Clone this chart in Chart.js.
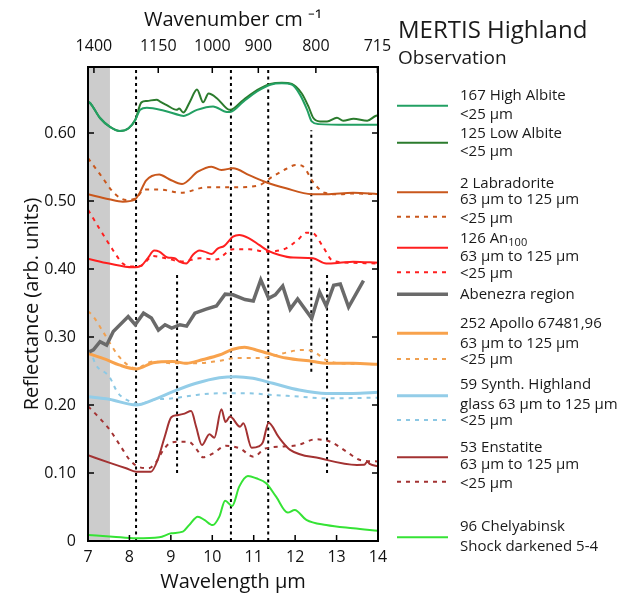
<!DOCTYPE html>
<html>
<head>
<meta charset="utf-8">
<script src="https://cdn.jsdelivr.net/npm/chart.js@4.4.1/dist/chart.umd.min.js"></script>
<style>
  html, body { margin: 0; padding: 0; background: #fff; }
  #wrap { position: relative; width: 619px; height: 598px; }
  #chart { position: absolute; left: 0; top: 0; }
  #legend { position: absolute; left: 0; top: 0; pointer-events: none; }
  #legend text { font-family: 'Open Sans', sans-serif; fill: #1a1a1a; }
</style>
</head>
<body>
<div id="wrap">
  <canvas id="chart" width="619" height="598"></canvas>
  <svg id="legend" width="619" height="598"></svg>
</div>
<script>
// [wavelength µm, reflectance]
const highAlbite = [[7.0,0.646],[7.05,0.644],[7.29,0.622],[7.53,0.609],[7.77,0.603],[7.98,0.607],[8.14,0.619],[8.26,0.634],[8.42,0.637],[8.82,0.633],[9.22,0.626],[9.30,0.625],[9.63,0.634],[10.02,0.639],[10.35,0.631],[10.43,0.631],[10.75,0.646],[11.08,0.661],[11.40,0.671],[11.68,0.673],[11.92,0.671],[12.12,0.656],[12.29,0.634],[12.40,0.617],[12.57,0.613],[13.28,0.612],[14.0,0.612]];
const lowAlbite = [[7.0,0.646],[7.05,0.644],[7.29,0.622],[7.53,0.609],[7.77,0.603],[7.98,0.607],[8.14,0.619],[8.29,0.645],[8.42,0.647],[8.66,0.649],[8.74,0.646],[8.90,0.641],[9.14,0.634],[9.20,0.636],[9.30,0.630],[9.46,0.646],[9.63,0.664],[9.78,0.645],[9.91,0.658],[10.11,0.651],[10.35,0.636],[10.43,0.634],[10.75,0.6485],[11.08,0.663],[11.40,0.672],[11.68,0.674],[11.92,0.672],[12.16,0.658],[12.32,0.639],[12.44,0.622],[12.60,0.617],[12.77,0.617],[13.01,0.6225],[13.16,0.618],[13.41,0.621],[13.74,0.618],[13.94,0.625],[14.0,0.626]];
const labradorite = [[7.0,0.510],[7.51,0.5025],[7.84,0.499],[8.12,0.5015],[8.24,0.511],[8.40,0.530],[8.72,0.539],[8.96,0.532],[9.27,0.525],[9.65,0.543],[9.98,0.5505],[10.22,0.5456],[10.50,0.548],[10.89,0.538],[11.30,0.5275],[11.78,0.5186],[12.40,0.510],[12.75,0.5097],[13.40,0.512],[14.0,0.510]];
const labradoriteFine = [[7.0,0.563],[7.27,0.541],[7.64,0.511],[7.92,0.5015],[8.16,0.504],[8.36,0.517],[8.72,0.517],[9.25,0.512],[9.85,0.520],[10.50,0.520],[11.10,0.5226],[11.46,0.536],[11.78,0.547],[12.02,0.553],[12.19,0.551],[12.43,0.528],[12.71,0.512],[13.07,0.5097],[13.40,0.511],[14.0,0.510]];
const an100 = [[7.0,0.415],[7.51,0.408],[8.08,0.4025],[8.29,0.405],[8.44,0.4157],[8.60,0.427],[8.72,0.4255],[8.92,0.417],[9.09,0.4157],[9.20,0.411],[9.37,0.408],[9.53,0.4206],[9.69,0.427],[9.81,0.4255],[9.98,0.422],[10.13,0.430],[10.29,0.434],[10.50,0.4475],[10.65,0.450],[10.89,0.445],[11.14,0.435],[11.34,0.427],[11.62,0.4206],[11.95,0.4167],[12.43,0.4157],[12.75,0.408],[13.07,0.409],[13.40,0.4108],[14.0,0.409]];
const an100Fine = [[7.0,0.487],[7.08,0.479],[7.27,0.460],[7.60,0.428],[7.84,0.408],[8.08,0.4035],[8.29,0.405],[8.57,0.419],[8.88,0.4157],[9.29,0.411],[9.69,0.4157],[10.09,0.414],[10.50,0.429],[10.89,0.429],[11.30,0.4255],[11.78,0.4304],[12.06,0.4426],[12.27,0.4534],[12.43,0.4525],[12.67,0.433],[12.91,0.412],[13.40,0.409],[14.0,0.408]];
const abenezra = [[7.03,0.278],[7.13,0.281],[7.29,0.293],[7.45,0.288],[7.61,0.308],[7.97,0.330],[8.14,0.318],[8.34,0.335],[8.53,0.328],[8.70,0.310],[8.86,0.318],[9.02,0.313],[9.22,0.318],[9.38,0.316],[9.58,0.335],[9.85,0.341],[10.10,0.3456],[10.31,0.363],[10.50,0.362],[10.79,0.355],[10.99,0.353],[11.17,0.384],[11.36,0.357],[11.52,0.362],[11.70,0.375],[11.88,0.341],[12.06,0.356],[12.40,0.3275],[12.59,0.366],[12.75,0.3456],[12.93,0.376],[13.09,0.378],[13.29,0.344],[13.65,0.383]];
const apollo = [[7.0,0.276],[7.43,0.267],[7.75,0.259],[8.16,0.253],[8.57,0.262],[9.05,0.264],[9.37,0.2613],[9.78,0.267],[10.17,0.2735],[10.50,0.282],[10.78,0.285],[11.06,0.2809],[11.34,0.276],[11.78,0.269],[12.43,0.264],[12.75,0.2613],[13.40,0.2613],[14.0,0.2598]];
const apolloFine = [[7.0,0.338],[7.13,0.330],[7.34,0.310],[7.56,0.288],[7.75,0.271],[8.00,0.257],[8.16,0.254],[8.57,0.264],[9.05,0.2613],[9.61,0.2613],[10.17,0.265],[10.57,0.269],[11.14,0.269],[11.46,0.272],[11.78,0.277],[12.15,0.281],[12.43,0.279],[12.75,0.266],[13.07,0.2613],[14.0,0.260]];
const synthGlass = [[7.0,0.212],[7.51,0.2083],[8.16,0.200],[8.57,0.2074],[9.05,0.2196],[9.61,0.2319],[10.17,0.240],[10.57,0.2417],[10.98,0.2392],[11.46,0.2319],[12.10,0.222],[12.75,0.217],[13.40,0.217],[14.0,0.2186]];
const synthGlassFine = [[7.0,0.280],[7.09,0.2735],[7.19,0.259],[7.51,0.242],[7.72,0.218],[8.01,0.2054],[8.24,0.2015],[8.57,0.2074],[9.05,0.2098],[9.61,0.2147],[10.17,0.2172],[10.82,0.2172],[11.46,0.2147],[12.10,0.2123],[12.75,0.2098],[14.0,0.2108]];
const enstatite = [[7.0,0.126],[7.51,0.1152],[7.92,0.1069],[8.16,0.102],[8.52,0.102],[8.68,0.119],[8.85,0.153],[9.01,0.182],[9.16,0.185],[9.33,0.1873],[9.49,0.191],[9.61,0.168],[9.75,0.141],[9.93,0.157],[10.05,0.152],[10.22,0.1936],[10.32,0.175],[10.43,0.183],[10.67,0.168],[10.75,0.173],[10.95,0.137],[11.12,0.139],[11.22,0.145],[11.36,0.174],[11.60,0.153],[11.88,0.134],[12.60,0.1216],[13.49,0.1118],[13.67,0.112],[13.74,0.1166],[13.81,0.113],[14.0,0.110]];
const enstatiteFine = [[7.0,0.198],[7.05,0.195],[7.29,0.180],[7.53,0.163],[7.77,0.141],[8.01,0.119],[8.22,0.109],[8.46,0.107],[8.62,0.114],[8.82,0.134],[8.98,0.144],[9.22,0.146],[9.43,0.146],[9.63,0.134],[9.78,0.123],[10.02,0.129],[10.33,0.140],[10.67,0.136],[10.99,0.124],[11.28,0.136],[11.72,0.139],[12.06,0.141],[12.49,0.1495],[12.85,0.146],[13.25,0.131],[13.57,0.119],[14.0,0.117]];
const chelyabinsk = [[7.0,0.009],[7.60,0.0064],[8.16,0.004],[8.72,0.0054],[9.01,0.0113],[9.29,0.0137],[9.44,0.0234],[9.65,0.0358],[9.81,0.031],[10.01,0.0234],[10.17,0.0358],[10.31,0.0593],[10.48,0.0515],[10.65,0.0799],[10.86,0.0956],[11.06,0.0922],[11.30,0.085],[11.54,0.0652],[11.82,0.0418],[11.99,0.0456],[12.27,0.031],[12.75,0.0234],[13.40,0.0186],[14.0,0.015]];

// dotted band markers (µm) and their vertical extent (reflectance)
const markerX = [8.16, 9.15, 10.45, 11.35, 12.39, 12.77];
const markerFrom = [0, 0.1, 0, 0, 0.249, 0.1];
const markerTo = [0.697, 0.394, 0.697, 0.697, 0.604, 0.396];
const shadeBand = [7, 7.53];

const wavenumberTicks = [1400, 1150, 1000, 900, 800, 715];
const yTicks = [0, 0.1, 0.2, 0.3, 0.4, 0.5, 0.6];

const FONT = "'Open Sans', sans-serif";
Chart.defaults.font.family = FONT;
Chart.defaults.color = '#111';

const DOT = [4, 5];
function series(data, color, width, dash, smooth = true) {
    return {
        data: data.map(([x, y]) => ({ x, y })),
        borderColor: color,
        borderWidth: width,
        borderDash: dash || [],
        pointRadius: 0,
        fill: false,
        tension: smooth ? 0.4 : 0,
        cubicInterpolationMode: smooth ? 'monotone' : 'default'
    };
}

const datasets = [
    series(highAlbite, '#22a063', 2),
    series(lowAlbite, '#2b7b2d', 2),
    series(labradorite, '#c9571c', 2),
    series(labradoriteFine, '#c9571c', 2, DOT),
    series(an100, '#ff1f1f', 2),
    series(an100Fine, '#ff1f1f', 2, DOT),
    series(abenezra, '#6a6a6a', 3.5, null, false),
    series(apollo, '#f8a24c', 3),
    series(apolloFine, '#f0a050', 2, DOT),
    series(synthGlass, '#93cde8', 3),
    series(synthGlassFine, '#8cc8e4', 2, DOT),
    series(enstatite, '#a33232', 2),
    series(enstatiteFine, '#a33232', 2, DOT),
    series(chelyabinsk, '#35e335', 2)
];

const markerSets = markerX.map((x, i) => ({
    data: [{ x, y: markerFrom[i] }, { x, y: markerTo[i] }],
    borderColor: '#000',
    borderWidth: 2,
    borderDash: [3, 3.5],
    pointRadius: 0,
    tension: 0
}));

const frame = {
    id: 'frame',
    beforeDatasetsDraw(chart) {
        const { ctx, chartArea: a, scales: { x } } = chart;
        const x0 = x.getPixelForValue(shadeBand[0]);
        const x1 = x.getPixelForValue(shadeBand[1]);
        ctx.save();
        ctx.fillStyle = '#cccccc';
        ctx.fillRect(x0, a.top, x1 - x0, a.bottom - a.top);
        ctx.restore();
    },
    afterDraw(chart) {
        const { ctx, chartArea: a, scales } = chart;
        const T = 6;
        ctx.save();
        ctx.strokeStyle = '#000';
        ctx.lineWidth = 1.5;
        ctx.beginPath();
        scales.x.ticks.forEach(t => {
            const p = scales.x.getPixelForValue(t.value);
            ctx.moveTo(p, a.bottom); ctx.lineTo(p, a.bottom - T);
        });
        scales.x2.ticks.forEach(t => {
            const p = scales.x2.getPixelForValue(t.value);
            ctx.moveTo(p, a.top); ctx.lineTo(p, a.top + T);
        });
        scales.y.ticks.forEach(t => {
            const p = scales.y.getPixelForValue(t.value);
            ctx.moveTo(a.left, p); ctx.lineTo(a.left + T, p);
            ctx.moveTo(a.right, p); ctx.lineTo(a.right - T, p);
        });
        ctx.stroke();
        ctx.lineWidth = 2;
        ctx.strokeRect(a.left, a.top, a.right - a.left, a.bottom - a.top);
        ctx.restore();
    }
};

const noGrid = { display: false, drawTicks: false };

new Chart(document.getElementById('chart'), {
    type: 'line',
    data: { datasets: [...datasets, ...markerSets] },
    options: {
        responsive: false,
        animation: false,
        layout: { padding: { left: 0, right: 241, top: 0, bottom: 0 } },
        plugins: { legend: { display: false }, tooltip: { enabled: false } },
        scales: {
            x: {
                type: 'linear', position: 'bottom', min: 7, max: 14,
                grid: noGrid, border: { display: false },
                ticks: { stepSize: 1, padding: 7, maxRotation: 0, font: { size: 16 }, color: '#111' },
                title: { display: true, text: 'Wavelength µm', font: { size: 20 }, color: '#111', padding: { top: 0, bottom: 4 } },
                afterFit: s => { s.height = 57; }
            },
            x2: {
                type: 'linear', position: 'top', min: 7, max: 14,
                grid: noGrid, border: { display: false },
                afterBuildTicks: s => { s.ticks = wavenumberTicks.map(w => ({ value: 1e4 / w })); },
                ticks: { autoSkip: false, padding: 11, maxRotation: 0, font: { size: 16 }, color: '#111',
                         callback: v => String(Math.round(1e4 / v)) },
                title: { display: true, text: 'Wavenumber cm ⁻¹', font: { size: 20 }, color: '#111', padding: { top: 8, bottom: 0 } },
                afterFit: s => { s.height = 67; }
            },
            y: {
                type: 'linear', min: 0, max: 0.697,
                grid: noGrid, border: { display: false },
                afterBuildTicks: s => { s.ticks = yTicks.map(v => ({ value: v })); },
                ticks: { padding: 12, font: { size: 16 }, color: '#111',
                         callback: v => v === 0 ? '0' : v.toFixed(2) },
                title: { display: true, text: 'Reflectance (arb. units)', font: { size: 20 }, color: '#111', padding: { top: 20, bottom: 0 } },
                afterFit: s => { s.width = 88; }
            }
        }
    },
    plugins: [frame]
});

// legend on the right
const svgNS = 'http://www.w3.org/2000/svg';
const svg = document.getElementById('legend');
function add(tag, attrs, text) {
    const el = document.createElementNS(svgNS, tag);
    Object.entries(attrs).forEach(([k, v]) => el.setAttribute(k, v));
    if (text) el.textContent = text;
    svg.appendChild(el);
    return el;
}

const legendSamples = [[105.7, 0], [142.7, 1], [192.3, 2], [216.7, 3], [247.7, 4], [272.3, 5], [294.3, 6],
    [333.3, 7], [359, 8], [395.7, 9], [420, 10], [457.3, 11], [481.7, 12], [537.3, 13]];
const legendTexts = [[94, '167 High Albite'], [113, '<25 µm'], [132, '125 Low Albite'], [150, '<25 µm'],
    [182, '2 Labradorite'], [198, '63 µm to 125 µm'], [217, '<25 µm'],
    [237, '126  An', '100'], [255, '63 µm to 125 µm'], [272, '<25 µm'], [293, 'Abenezra region'],
    [322, '252 Apollo 67481,96'], [342, '63 µm to 125 µm'], [358, '<25 µm'],
    [383, '59 Synth. Highland'], [403, 'glass 63 µm to 125 µm'], [419, '<25 µm'],
    [446, '53 Enstatite'], [463, '63 µm to 125 µm'], [482, '<25 µm'],
    [525, '96 Chelyabinsk'], [545, 'Shock darkened 5-4']];

add('text', { x: 398, y: 28, 'font-size': 24, 'dominant-baseline': 'central' }, 'MERTIS Highland');
add('text', { x: 398, y: 57, 'font-size': 19, 'dominant-baseline': 'central' }, 'Observation');

legendSamples.forEach(([y, i]) => {
    const d = datasets[i];
    add('line', { x1: 397, x2: 448, y1: y, y2: y, stroke: d.borderColor, 'stroke-width': d.borderWidth,
        'stroke-dasharray': d.borderDash.length ? d.borderDash.join(' ') : 'none' });
});

legendTexts.forEach(([y, text, sub]) => {
    const t = add('text', { x: 460, y, 'font-size': 15, 'dominant-baseline': 'central' }, text);
    if (sub) {
        const s = document.createElementNS(svgNS, 'tspan');
        s.setAttribute('font-size', 11);
        s.setAttribute('dy', 4);
        s.textContent = sub;
        t.appendChild(s);
    }
});
</script>
</body>
</html>
